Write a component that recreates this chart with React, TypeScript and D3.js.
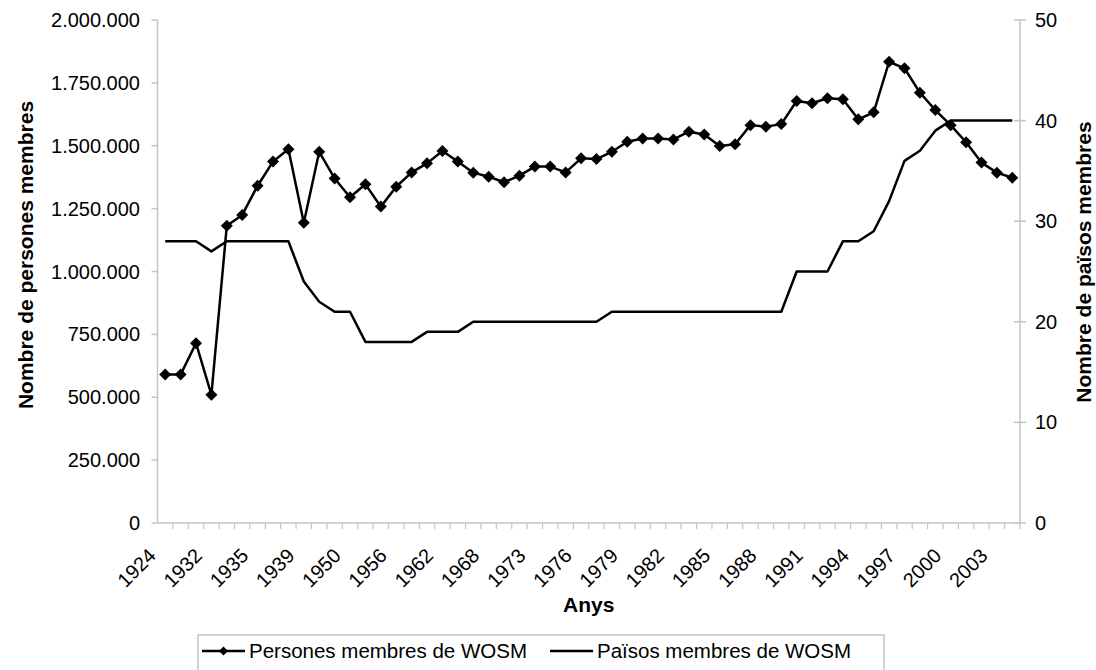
import { useMemo } from "react";
import * as d3 from "d3";

// categories (only every third one is labelled on the axis)
const years = [
    "1924", "1926", "1929", "1932", "1933", "1934", "1935", "1936", "1937", "1939",
    "1947", "1948", "1950", "1952", "1954", "1956", "1958", "1960", "1962", "1964",
    "1966", "1968", "1969", "1971", "1973", "1974", "1975", "1976", "1977", "1978",
    "1979", "1980", "1981", "1982", "1983", "1984", "1985", "1986", "1987", "1988",
    "1989", "1990", "1991", "1992", "1993", "1994", "1995", "1996", "1997", "1998",
    "1999", "2000", "2001", "2002", "2003", "2004",
];

const persones = [
    590000, 590000, 715000, 510000, 1182000, 1225000, 1341000, 1437000, 1486000, 1194000,
    1476000, 1370000, 1295000, 1347000, 1258000, 1337000, 1394000, 1430000, 1479000, 1437000,
    1393000, 1377000, 1355000, 1381000, 1417000, 1417000, 1394000, 1450000, 1447000, 1476000,
    1516000, 1529000, 1529000, 1525000, 1556000, 1545000, 1499000, 1506000, 1582000, 1576000,
    1586000, 1678000, 1669000, 1689000, 1685000, 1605000, 1633000, 1834000, 1808000, 1711000,
    1642000, 1582000, 1514000, 1433000, 1393000, 1373000,
];

const paisos = [
    28, 28, 28, 27, 28, 28, 28, 28, 28, 24,
    22, 21, 21, 18, 18, 18, 18, 19, 19, 19,
    20, 20, 20, 20, 20, 20, 20, 20, 20, 21,
    21, 21, 21, 21, 21, 21, 21, 21, 21, 21,
    21, 25, 25, 25, 28, 28, 29, 32, 36, 37,
    39, 40, 40, 40, 40, 40,
];

const leftTicks = [0, 250000, 500000, 750000, 1000000, 1250000, 1500000, 1750000, 2000000];
const rightTicks = [0, 10, 20, 30, 40, 50];

const seriesNames = ["Persones membres de WOSM", "Països membres de WOSM"];

const W = 1096;
const H = 670;
const X0 = 157.5;
const X1 = 1020;
const Y0 = 523;
const Y1 = 20;
const FONT = "'Liberation Sans', Arial, sans-serif";
const AXIS = "#c4c4c4";
const FS = 20;

const fmt = d3.formatLocale({ decimal: ",", thousands: ".", grouping: [3], currency: ["", ""] }).format(",d");

const diamond = (r: number) => `M0,${-r}L${r},0L0,${r}L${-r},0Z`;

const App = () => {
    const x = useMemo(() => d3.scaleBand<string>().domain(years).range([X0, X1]), []);
    const yL = useMemo(() => d3.scaleLinear().domain([0, 2000000]).range([Y0, Y1]), []);
    const yR = useMemo(() => d3.scaleLinear().domain([0, 50]).range([Y0, Y1]), []);
    const bw = x.bandwidth();
    const cx = (i: number) => (x(years[i]) as number) + bw / 2;

    const lineP = d3.line<number>().x((_, i) => cx(i)).y((d) => yL(d));
    const lineC = d3.line<number>().x((_, i) => cx(i)).y((d) => yR(d));

    return (
        <svg width={W} height={H} style={{ position: "absolute", left: 0, top: 0, background: "#fff" }}
            fontFamily={FONT}>
            {/* axes */}
            <line x1={X0} x2={X0} y1={Y1} y2={Y0} stroke={AXIS} strokeWidth={1.5} />
            <line x1={X1} x2={X1} y1={Y1} y2={Y0} stroke={AXIS} strokeWidth={1.5} />
            <line x1={X0} x2={X1} y1={Y0} y2={Y0} stroke={AXIS} strokeWidth={1.5} />

            {leftTicks.map((t) => (
                <g key={t}>
                    <line x1={X0 - 6} x2={X0} y1={yL(t)} y2={yL(t)} stroke={AXIS} strokeWidth={1.5} />
                    <text x={140} y={yL(t)} dy="0.35em" textAnchor="end" fontSize={FS}>{fmt(t)}</text>
                </g>
            ))}
            {rightTicks.map((t) => (
                <g key={t}>
                    <line x1={X1 - 6} x2={X1 + 6} y1={yR(t)} y2={yR(t)} stroke={AXIS} strokeWidth={1.5} />
                    <text x={1035} y={yR(t)} dy="0.35em" fontSize={FS}>{t}</text>
                </g>
            ))}
            {years.map((yr) => (
                <line key={yr} x1={(x(yr) as number) + bw} x2={(x(yr) as number) + bw} y1={Y0} y2={Y0 + 6}
                    stroke={AXIS} strokeWidth={1.2} />
            ))}
            {years.map((yr, i) =>
                i % 3 === 0 ? (
                    <text key={yr} transform={`translate(${cx(i) - 8},${Y0 + 34}) rotate(-45)`} textAnchor="end"
                        fontSize={FS}>{yr}</text>
                ) : null
            )}

            {/* titles */}
            <text x={(X0 + X1) / 2} y={612} textAnchor="middle" fontSize={21} fontWeight="bold">Anys</text>
            <text transform={`translate(33,255) rotate(-90)`} textAnchor="middle" fontSize={21}
                fontWeight="bold">Nombre de persones membres</text>
            <text transform={`translate(1091,262) rotate(-90)`} textAnchor="middle" fontSize={21}
                fontWeight="bold">Nombre de països membres</text>

            {/* series */}
            <path d={lineC(paisos) || undefined} fill="none" stroke="#000" strokeWidth={2.5} strokeLinejoin="round" />
            <path d={lineP(persones) || undefined} fill="none" stroke="#000" strokeWidth={2.5} strokeLinejoin="round" />
            {persones.map((v, i) => (
                <path key={i} d={diamond(6)} transform={`translate(${cx(i)},${yL(v)})`} fill="#000" />
            ))}

            {/* legend */}
            <g>
                <rect x={198} y={635} width={686} height={45} fill="#fff" stroke={AXIS} strokeWidth={1.5} />
                <line x1={202} x2={245} y1={651} y2={651} stroke="#000" strokeWidth={2.5} />
                <path d={diamond(4.5)} transform="translate(223.5,651)" fill="#000" />
                <text x={249} y={658} fontSize={20.5}>{seriesNames[0]}</text>
                <line x1={550} x2={593} y1={651} y2={651} stroke="#000" strokeWidth={2.5} />
                <text x={597} y={658} fontSize={20.5}>{seriesNames[1]}</text>
            </g>
        </svg>
    );
};

export default App;
